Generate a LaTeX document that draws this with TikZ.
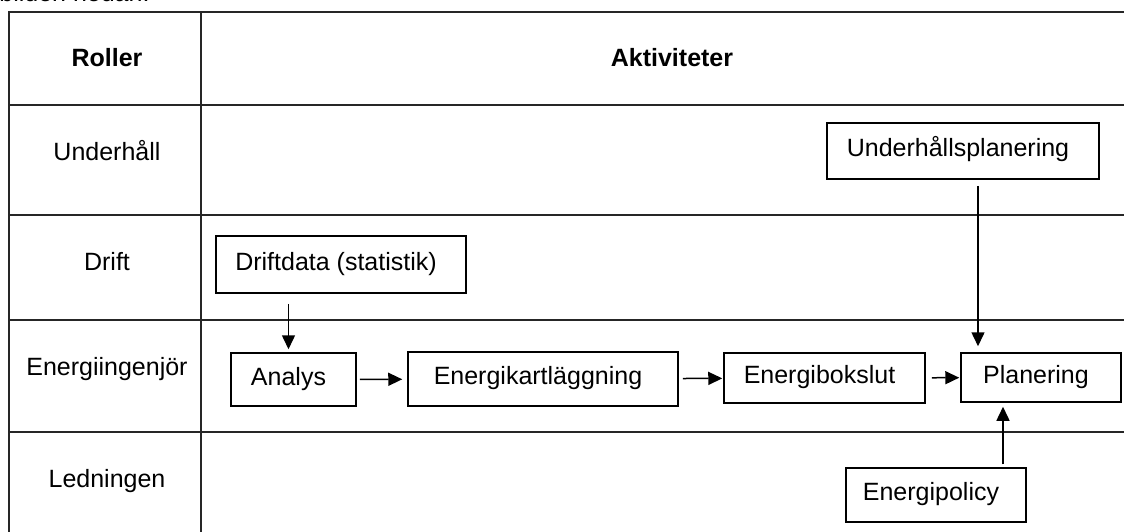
\documentclass[tikz,border=0pt]{standalone}
\usepackage{fontspec}
\setmainfont{Liberation Sans}
\usetikzlibrary{arrows.meta,positioning}

\begin{document}
\begin{tikzpicture}[x=0.5pt,y=-0.5pt,
  font=\fontsize{12.5}{15}\selectfont,
  grid/.style={line width=1pt,draw=black!85},
  box/.style={draw,line width=0.75pt,inner sep=0pt,text height=0.72em,text depth=0.16em,
    execute at end node={\kern5pt}},
  lbl/.style={anchor=base,inner sep=0pt},
  arr/.style={-{Triangle[length=7pt,width=6.5pt]},line width=0.75pt}]
\useasboundingbox (0,0) rectangle (1124,531);
\clip (0,0) rectangle (1124,531);
\node[anchor=base west,inner sep=0pt] (intro) at (-1,1) {bilden nedan:};
% tabellen
\draw[grid] (1150,11.5) -- (8.5,11.5) -- (8.5,560);
\draw[grid] (201,11.5) -- (201,560);
\foreach \y in {105,215,320,432}
  \draw[grid] (8.5,\y) -- (1150,\y);
\node[lbl,font=\fontsize{12.5}{15}\selectfont\bfseries] (roller) at (107,66) {Roller};
\node[lbl,font=\fontsize{12.5}{15}\selectfont\bfseries] (akt) at (672,66) {Aktiviteter};
\node[lbl] (r1) at (107,160) {Underhåll};
\node[lbl] (r2) at (107,270) {Drift};
\node[lbl] (r3) at (107,375) {Energiingenjör};
\node[lbl] (r4) at (107,487) {Ledningen};
% aktiviteter
\node[box,minimum width=125pt,minimum height=28.5pt] (drift) at (341,264.5) {Driftdata (statistik)};
\node[box,minimum width=62.5pt,minimum height=26.5pt] (analys) at (293.5,379.5) {Analys};
\node[box,minimum width=135pt,minimum height=27pt] (kart) at (543,379) {Energikartläggning};
\node[box,minimum width=100.5pt,minimum height=25pt] (bokslut) at (824.5,378) {Energibokslut};
\node[box,minimum width=80pt,minimum height=24.5pt] (plan) at (1041,377.5) {Planering};
\node[box,minimum width=136pt,minimum height=28pt] (uplan) at (963,151) {Underhållsplanering};
\node[box,minimum width=90pt,minimum height=27pt] (policy) at (936,495) {Energipolicy};
% pilar
\draw[arr,shorten <=5pt,shorten >=1.5pt] ([xshift=-2.5pt]analys.north |- drift.south) -- ([xshift=-2.5pt]analys.north);
\draw[arr,shorten <=1.5pt,shorten >=2.5pt] (analys) -- (kart);
\draw[arr,shorten <=2pt,shorten >=0.5pt] (kart) -- (bokslut);
\draw[arr,shorten <=3pt,shorten >=0.5pt] (bokslut) -- (plan);
\draw[arr,shorten <=3pt,shorten >=3pt] ([xshift=7.5pt]uplan.south) -- ([xshift=7.5pt]uplan.south |- plan.north);
\draw[arr,shorten <=1.5pt,shorten >=2pt] ([xshift=33.5pt]policy.north) -- ([xshift=33.5pt]policy.north |- plan.south);
\end{tikzpicture}
\end{document}
